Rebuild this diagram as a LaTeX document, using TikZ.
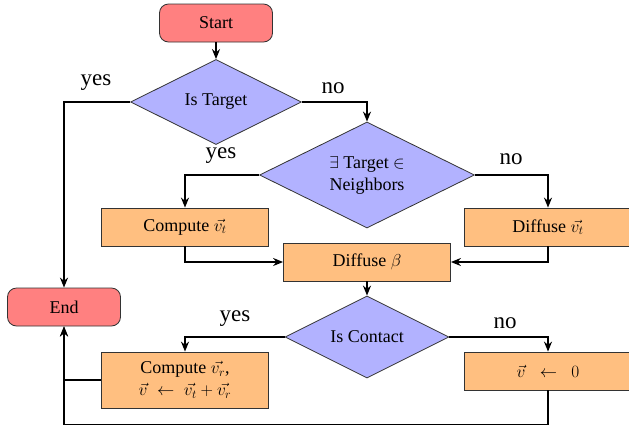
\documentclass[tikz,border=0pt]{standalone}
\usepackage{fontspec}
\setmainfont{Liberation Serif}
\usetikzlibrary{shapes.geometric,arrows.meta}
\begin{document}
\begin{tikzpicture}[x=1pt,y=-1pt,
  every node/.style={font=\fontsize{18}{22}\selectfont},
  term/.style={draw=black!80,line width=0.8pt,fill=red!50,rounded corners=9pt,minimum width=113pt,minimum height=38pt,inner sep=0pt},
  proc/.style={draw=black!80,line width=0.8pt,fill=orange!50,minimum width=167pt,minimum height=38pt,inner sep=0pt,align=center},
  dec/.style={draw=black!80,line width=0.8pt,fill=blue!30,diamond,aspect=2,inner sep=0pt,align=center},
  conn/.style={line width=1.5pt,-{Stealth[length=10pt,width=8pt]}},
  lbl/.style={font=\fontsize{23}{26}\selectfont,inner sep=0pt}]
\useasboundingbox (0,0) rectangle (629,429);
\node[term] (start) at (216,23) {Start};
\node[dec,minimum width=171pt,minimum height=85pt] (t1) at (216,102) {Is Target};
\node[dec,minimum width=215pt,minimum height=106pt] (t2) at (367,175) {$\exists$ Target $\in$\\Neighbors};
\node[proc] (cvt) at (185,227) {Compute $\vec{v_t}$};
\node[proc] (dvt) at (548,227) {Diffuse $\vec{v_t}$};
\node[proc] (db) at (367,262) {Diffuse $\beta$};
\node[dec,minimum width=164pt,minimum height=82pt] (c) at (367,337) {Is Contact};
\node[proc,minimum height=56pt] (cvr) at (185,380) {Compute $\vec{v_r}$,\\$\vec{v}\;\leftarrow\;\vec{v_t}+\vec{v_r}$};
\node[proc] (v0) at (548,371) {$\vec{v}\;\;\leftarrow\;\;0$};
\node[term] (end) at (64,307) {End};

\draw[conn] (start) -- (t1);
\draw[conn] (t1.west) -| (end.north);
\draw[conn] (t1.east) -| (t2.north);
\draw[conn] (t2.west) -| (cvt.north);
\draw[conn] (t2.east) -| (dvt.north);
\draw[conn] (cvt.south) |- (db.west);
\draw[conn] (dvt.south) |- (db.east);
\draw[conn] (db) -- (c);
\draw[conn] (c.west) -| (cvr.north);
\draw[conn] (c.east) -| (v0.north);
\draw[conn] (cvr.west) -| (end.south);
\draw[conn] (v0.south) -- ++(0,34) -| (end.south);

\node[lbl] (l1) at (96,83) {yes};
\node[lbl] (l2) at (333,88) {no};
\node[lbl] (l3) at (221,156) {yes};
\node[lbl] (l4) at (511,159) {no};
\node[lbl] (l5) at (235,319) {yes};
\node[lbl] (l6) at (505,323) {no};
\end{tikzpicture}
\end{document}
